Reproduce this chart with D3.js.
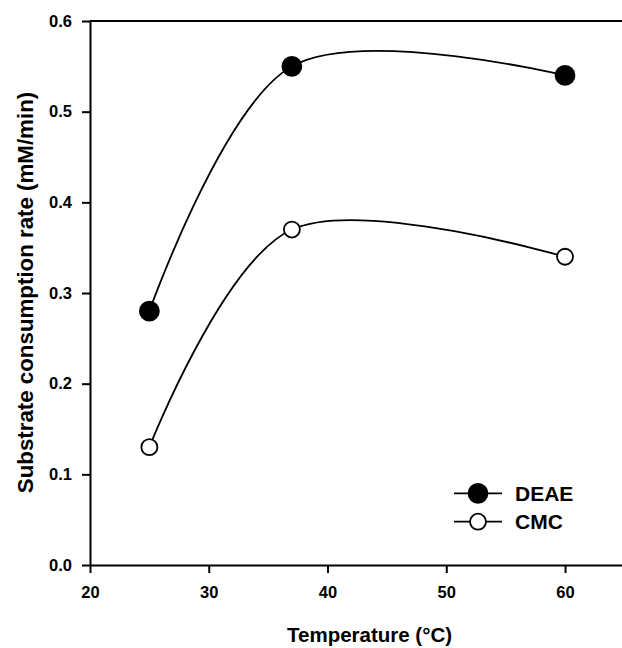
<!DOCTYPE html>
<html>
<head>
<meta charset="utf-8">
<script src="https://cdn.jsdelivr.net/npm/d3@7"></script>
<style>
  html, body { margin: 0; padding: 0; background: #fff; }
  svg { display: block; font-family: "Liberation Sans", Arial, sans-serif; font-weight: bold; }
</style>
</head>
<body>
<svg id="chart" width="622" height="648"></svg>
<script>
// ---- Data ----
const temperatures = [25, 37, 60];
const deaeValues = [0.28, 0.55, 0.54];
const cmcValues = [0.13, 0.37, 0.34];
const seriesNames = ["DEAE", "CMC"];
const xTicks = [20, 30, 40, 50, 60];
const yTicks = [0.0, 0.1, 0.2, 0.3, 0.4, 0.5, 0.6];
const xLabel = "Temperature (°C)";
const yLabel = "Substrate consumption rate (mM/min)";

// ---- Layout ----
const svg = d3.select("#chart");
const x = d3.scaleLinear().domain([20, 65]).range([90, 624.4]);
const y = d3.scaleLinear().domain([0, 0.6]).range([565, 21]);

// top frame line
svg.append("line")
  .attr("x1", x(20)).attr("x2", x(65))
  .attr("y1", y(0.6)).attr("y2", y(0.6))
  .attr("stroke", "#000").attr("stroke-width", 2);

// x axis
const xAxis = svg.append("g")
  .attr("transform", `translate(0,${y(0)})`)
  .call(d3.axisBottom(x).tickValues(xTicks).tickFormat(d3.format("d"))
        .tickSize(8).tickSizeOuter(0).tickPadding(13));
xAxis.select(".domain").attr("stroke-width", 2);
xAxis.selectAll(".tick line").attr("stroke-width", 2);
xAxis.selectAll("text").attr("font-size", 16.5).attr("font-weight", "bold")
  .attr("font-family", "'Liberation Sans', Arial, sans-serif").attr("fill", "#000");

// y axis
const yAxis = svg.append("g")
  .attr("transform", `translate(${x(20)},0)`)
  .call(d3.axisLeft(y).tickValues(yTicks).tickFormat(d3.format(".1f"))
        .tickSize(8).tickSizeOuter(0).tickPadding(10));
yAxis.select(".domain").attr("stroke-width", 2);
yAxis.selectAll(".tick line").attr("stroke-width", 2);
yAxis.selectAll("text").attr("font-size", 16.5).attr("font-weight", "bold")
  .attr("font-family", "'Liberation Sans', Arial, sans-serif").attr("fill", "#000");

// axis titles
svg.append("text")
  .attr("x", 287).attr("y", 642)
  .attr("font-size", 20.5)
  .text(xLabel);

svg.append("text")
  .attr("transform", `translate(33,292.5) rotate(-90)`)
  .attr("text-anchor", "middle")
  .attr("font-size", 22.3)
  .text(yLabel);

// ---- Series ----
const line = d3.line()
  .x(d => x(d[0])).y(d => y(d[1]))
  .curve(d3.curveCardinal.tension(0));

const series = [
  { name: seriesNames[0], values: deaeValues, fill: "#000", r: 9.5 },
  { name: seriesNames[1], values: cmcValues, fill: "#fff", r: 8 }
];

series.forEach(s => {
  const pts = temperatures.map((t, i) => [t, s.values[i]]);
  svg.append("path")
    .attr("d", line(pts))
    .attr("fill", "none").attr("stroke", "#000").attr("stroke-width", 1.8);
  svg.selectAll(null).data(pts).enter().append("circle")
    .attr("cx", d => x(d[0])).attr("cy", d => y(d[1]))
    .attr("r", s.r)
    .attr("fill", s.fill).attr("stroke", "#000").attr("stroke-width", 1.8);
});

// ---- Legend ----
const legend = svg.append("g");
series.forEach((s, i) => {
  const ly = 493.3 + i * 28.4;
  legend.append("line")
    .attr("x1", 454).attr("x2", 502).attr("y1", ly).attr("y2", ly)
    .attr("stroke", "#000").attr("stroke-width", 1.8);
  legend.append("circle")
    .attr("cx", 478).attr("cy", ly).attr("r", s.r)
    .attr("fill", s.fill).attr("stroke", "#000").attr("stroke-width", 1.8);
  legend.append("text")
    .attr("x", 515).attr("y", ly).attr("dy", "0.36em")
    .attr("font-size", 21)
    .text(s.name);
});
</script>
</body>
</html>
